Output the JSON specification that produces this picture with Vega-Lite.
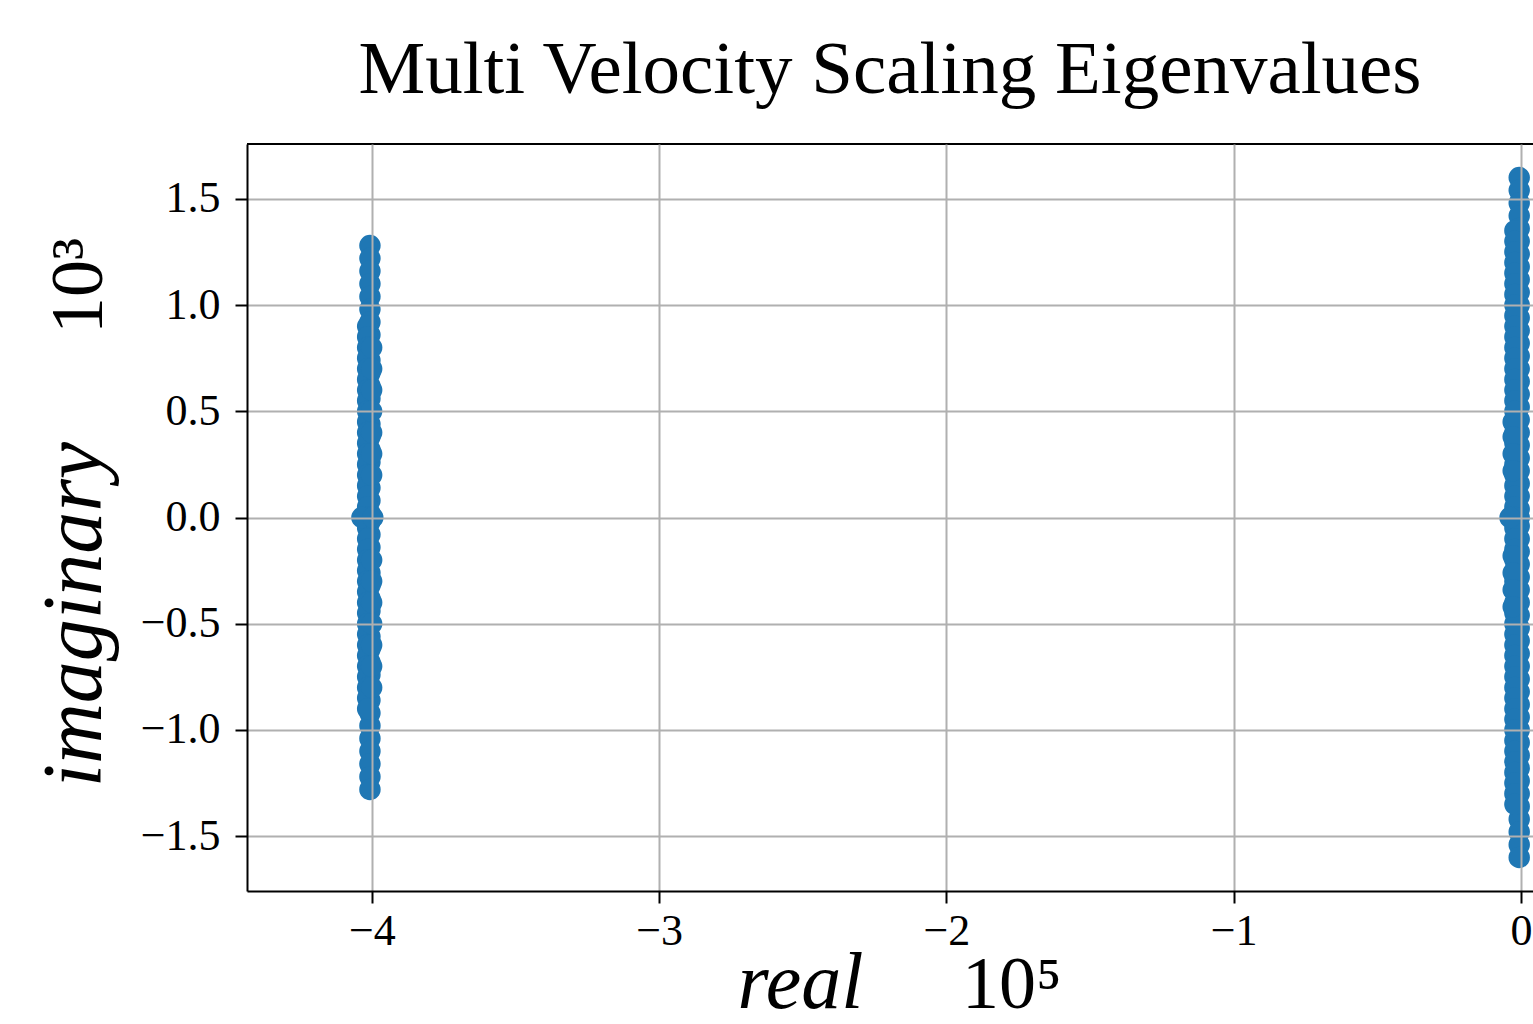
{
  "$schema": "https://vega.github.io/schema/vega-lite/v6.json",
  "width": 1286,
  "height": 747,
  "autosize": {"type": "none"},
  "padding": {"left": 247, "top": 144, "right": 0, "bottom": 133},
  "background": "white",
  "title": {"text": "Multi Velocity Scaling Eigenvalues", "font": "Liberation Serif", "fontSize": 75, "fontWeight": "normal", "color": "black", "anchor": "middle", "frame": "group", "baseline": "alphabetic", "offset": -25},
  "config": {"view": {"stroke": null}},
  "datasets": {
    "eig": [
      {"re":-4.007,"im":1.28},{"re":-4.007,"im":1.22},{"re":-4.007,"im":1.16},{"re":-4.007,"im":1.10},{"re":-4.007,"im":1.04},{"re":-4.007,"im":0.98},{"re":-4.007,"im":0.92},{"re":-4.007,"im":0.86},{"re":-4.007,"im":0.80},{"re":-4.007,"im":0.74},{"re":-4.007,"im":0.68},{"re":-4.007,"im":0.62},{"re":-4.007,"im":0.56},{"re":-4.007,"im":0.50},{"re":-4.007,"im":0.44},{"re":-4.007,"im":0.38},{"re":-4.007,"im":0.32},{"re":-4.007,"im":0.26},{"re":-4.007,"im":0.20},{"re":-4.007,"im":0.14},{"re":-4.007,"im":0.08},{"re":-4.007,"im":0.02},{"re":-4.007,"im":0.0},
      {"re":-4.007,"im":-0.02},{"re":-4.007,"im":-0.08},{"re":-4.007,"im":-0.14},{"re":-4.007,"im":-0.20},{"re":-4.007,"im":-0.26},{"re":-4.007,"im":-0.32},{"re":-4.007,"im":-0.38},{"re":-4.007,"im":-0.44},{"re":-4.007,"im":-0.50},{"re":-4.007,"im":-0.56},{"re":-4.007,"im":-0.62},{"re":-4.007,"im":-0.68},{"re":-4.007,"im":-0.74},{"re":-4.007,"im":-0.80},{"re":-4.007,"im":-0.86},{"re":-4.007,"im":-0.92},{"re":-4.007,"im":-0.98},{"re":-4.007,"im":-1.04},{"re":-4.007,"im":-1.10},{"re":-4.007,"im":-1.16},{"re":-4.007,"im":-1.22},{"re":-4.007,"im":-1.28},
      {"re":-4.015,"im":0.90},{"re":-4.015,"im":0.85},{"re":-4.015,"im":0.80},{"re":-4.015,"im":0.75},{"re":-4.015,"im":0.70},{"re":-4.015,"im":0.65},{"re":-4.015,"im":0.60},{"re":-4.015,"im":0.55},{"re":-4.015,"im":0.50},{"re":-4.015,"im":0.45},{"re":-4.015,"im":0.40},{"re":-4.015,"im":0.35},{"re":-4.015,"im":0.30},{"re":-4.015,"im":0.25},{"re":-4.015,"im":0.20},{"re":-4.015,"im":0.15},{"re":-4.015,"im":0.10},{"re":-4.015,"im":0.05},{"re":-4.015,"im":0.0},
      {"re":-4.015,"im":-0.05},{"re":-4.015,"im":-0.10},{"re":-4.015,"im":-0.15},{"re":-4.015,"im":-0.20},{"re":-4.015,"im":-0.25},{"re":-4.015,"im":-0.30},{"re":-4.015,"im":-0.35},{"re":-4.015,"im":-0.40},{"re":-4.015,"im":-0.45},{"re":-4.015,"im":-0.50},{"re":-4.015,"im":-0.55},{"re":-4.015,"im":-0.60},{"re":-4.015,"im":-0.65},{"re":-4.015,"im":-0.70},{"re":-4.015,"im":-0.75},{"re":-4.015,"im":-0.80},{"re":-4.015,"im":-0.85},{"re":-4.015,"im":-0.90},
      {"re":-4.001,"im":0.80},{"re":-4.001,"im":0.70},{"re":-4.001,"im":0.60},{"re":-4.001,"im":0.50},{"re":-4.001,"im":0.40},{"re":-4.001,"im":0.30},{"re":-4.001,"im":0.20},{"re":-4.001,"im":-0.20},{"re":-4.001,"im":-0.30},{"re":-4.001,"im":-0.40},{"re":-4.001,"im":-0.50},{"re":-4.001,"im":-0.60},{"re":-4.001,"im":-0.70},{"re":-4.001,"im":-0.80},
      {"re":-4.035,"im":0.0},{"re":-3.997,"im":0.0},
      {"re":-0.006,"im":1.60},{"re":-0.006,"im":1.54},{"re":-0.006,"im":1.48},{"re":-0.006,"im":1.42},{"re":-0.006,"im":1.36},{"re":-0.006,"im":1.30},{"re":-0.006,"im":1.24},{"re":-0.006,"im":1.18},{"re":-0.006,"im":1.12},{"re":-0.006,"im":1.06},{"re":-0.006,"im":1.00},{"re":-0.006,"im":0.94},{"re":-0.006,"im":0.88},{"re":-0.006,"im":0.82},{"re":-0.006,"im":0.76},{"re":-0.006,"im":0.70},{"re":-0.006,"im":0.64},{"re":-0.006,"im":0.58},{"re":-0.006,"im":0.52},{"re":-0.006,"im":0.46},{"re":-0.006,"im":0.40},{"re":-0.006,"im":0.34},{"re":-0.006,"im":0.28},{"re":-0.006,"im":0.22},{"re":-0.006,"im":0.16},{"re":-0.006,"im":0.10},{"re":-0.006,"im":0.04},{"re":-0.006,"im":0.0},
      {"re":-0.006,"im":-0.04},{"re":-0.006,"im":-0.10},{"re":-0.006,"im":-0.16},{"re":-0.006,"im":-0.22},{"re":-0.006,"im":-0.28},{"re":-0.006,"im":-0.34},{"re":-0.006,"im":-0.40},{"re":-0.006,"im":-0.46},{"re":-0.006,"im":-0.52},{"re":-0.006,"im":-0.58},{"re":-0.006,"im":-0.64},{"re":-0.006,"im":-0.70},{"re":-0.006,"im":-0.76},{"re":-0.006,"im":-0.82},{"re":-0.006,"im":-0.88},{"re":-0.006,"im":-0.94},{"re":-0.006,"im":-1.00},{"re":-0.006,"im":-1.06},{"re":-0.006,"im":-1.12},{"re":-0.006,"im":-1.18},{"re":-0.006,"im":-1.24},{"re":-0.006,"im":-1.30},{"re":-0.006,"im":-1.36},{"re":-0.006,"im":-1.42},{"re":-0.006,"im":-1.48},{"re":-0.006,"im":-1.54},{"re":-0.006,"im":-1.60},
      {"re":-0.021,"im":1.35},{"re":-0.021,"im":1.30},{"re":-0.021,"im":1.25},{"re":-0.021,"im":1.20},{"re":-0.021,"im":1.15},{"re":-0.021,"im":1.10},{"re":-0.021,"im":1.05},{"re":-0.021,"im":1.00},{"re":-0.021,"im":0.95},{"re":-0.021,"im":0.90},{"re":-0.021,"im":0.85},{"re":-0.021,"im":0.80},{"re":-0.021,"im":0.75},{"re":-0.021,"im":0.70},{"re":-0.021,"im":0.65},{"re":-0.021,"im":0.60},{"re":-0.021,"im":0.55},{"re":-0.021,"im":0.50},{"re":-0.021,"im":0.45},{"re":-0.021,"im":0.40},{"re":-0.021,"im":0.35},{"re":-0.021,"im":0.30},{"re":-0.021,"im":0.25},{"re":-0.021,"im":0.20},{"re":-0.021,"im":0.15},{"re":-0.021,"im":0.10},{"re":-0.021,"im":0.05},{"re":-0.021,"im":0.0},
      {"re":-0.021,"im":-0.05},{"re":-0.021,"im":-0.10},{"re":-0.021,"im":-0.15},{"re":-0.021,"im":-0.20},{"re":-0.021,"im":-0.25},{"re":-0.021,"im":-0.30},{"re":-0.021,"im":-0.35},{"re":-0.021,"im":-0.40},{"re":-0.021,"im":-0.45},{"re":-0.021,"im":-0.50},{"re":-0.021,"im":-0.55},{"re":-0.021,"im":-0.60},{"re":-0.021,"im":-0.65},{"re":-0.021,"im":-0.70},{"re":-0.021,"im":-0.75},{"re":-0.021,"im":-0.80},{"re":-0.021,"im":-0.85},{"re":-0.021,"im":-0.90},{"re":-0.021,"im":-0.95},{"re":-0.021,"im":-1.00},{"re":-0.021,"im":-1.05},{"re":-0.021,"im":-1.10},{"re":-0.021,"im":-1.15},{"re":-0.021,"im":-1.20},{"re":-0.021,"im":-1.25},{"re":-0.021,"im":-1.30},{"re":-0.021,"im":-1.35},
      {"re":-0.027,"im":0.45},{"re":-0.027,"im":0.38},{"re":-0.027,"im":0.30},{"re":-0.027,"im":0.22},{"re":-0.027,"im":-0.18},{"re":-0.027,"im":-0.26},{"re":-0.027,"im":-0.34},{"re":-0.027,"im":-0.42},
      {"re":-0.038,"im":0.0}
    ],
    "xexp": [{"re": -1.772, "im": -2.31, "label": "10⁵"}],
    "yexp": [{"re": -4.94, "im": 1.09, "label": "10³"}]
  },
  "layer": [
    {
      "data": {"name": "eig"},
      "mark": {"type": "circle", "size": 460, "opacity": 1, "color": "#1f77b4"},
      "encoding": {
        "x": {"field": "re", "type": "quantitative",
          "scale": {"domain": [-4.435, 0.042], "nice": false, "zero": false},
          "axis": {"values": [-4, -3, -2, -1, 0], "format": "d", "labelFont": "Liberation Serif", "labelFontSize": 44, "labelColor": "black", "labelPadding": 6, "labelFlush": false, "labelOverlap": false,
            "tickColor": "black", "tickWidth": 2, "tickSize": 12, "domainColor": "black", "domainWidth": 2,
            "grid": true, "gridColor": "#b0b0b0", "gridWidth": 2,
            "title": "real", "titleFont": "Liberation Serif", "titleFontStyle": "italic", "titleFontWeight": "normal", "titleFontSize": 80, "titleColor": "black",
            "titleX": 553, "titleY": 116, "titleAlign": "center", "titleBaseline": "alphabetic", "zindex": 1}},
        "y": {"field": "im", "type": "quantitative",
          "scale": {"domain": [-1.758, 1.758], "nice": false, "zero": false},
          "axis": {"values": [-1.5, -1, -0.5, 0, 0.5, 1, 1.5], "format": ".1f", "labelFont": "Liberation Serif", "labelFontSize": 44, "labelColor": "black", "labelPadding": 15, "labelFlush": false, "labelOverlap": false,
            "tickColor": "black", "tickWidth": 2, "tickSize": 12, "domainColor": "black", "domainWidth": 2,
            "grid": true, "gridColor": "#b0b0b0", "gridWidth": 2,
            "title": "imaginary", "titleFont": "Liberation Serif", "titleFontStyle": "italic", "titleFontWeight": "normal", "titleFontSize": 84, "titleColor": "black",
            "titleAngle": 270, "titleX": -147, "titleY": 470, "titleAlign": "center", "titleBaseline": "alphabetic", "zindex": 1}}
      }
    },
    {
      "data": {"name": "eig"},
      "mark": {"type": "rule", "color": "black", "strokeWidth": 2},
      "encoding": {
        "y": {"datum": 1.758, "type": "quantitative", "scale": {"domain": [-1.758, 1.758], "nice": false, "zero": false}}
      }
    },
    {
      "data": {"name": "xexp"},
      "mark": {"type": "text", "font": "Liberation Serif", "fontSize": 74, "align": "center", "baseline": "alphabetic", "color": "black"},
      "encoding": {
        "x": {"field": "re", "type": "quantitative", "scale": {"domain": [-4.435, 0.042], "nice": false, "zero": false}},
        "y": {"field": "im", "type": "quantitative", "scale": {"domain": [-1.758, 1.758], "nice": false, "zero": false}},
        "text": {"field": "label"}
      }
    },
    {
      "data": {"name": "yexp"},
      "mark": {"type": "text", "font": "Liberation Serif", "fontSize": 74, "align": "center", "baseline": "alphabetic", "angle": 270, "color": "black"},
      "encoding": {
        "x": {"field": "re", "type": "quantitative", "scale": {"domain": [-4.435, 0.042], "nice": false, "zero": false}},
        "y": {"field": "im", "type": "quantitative", "scale": {"domain": [-1.758, 1.758], "nice": false, "zero": false}},
        "text": {"field": "label"}
      }
    }
  ]
}
